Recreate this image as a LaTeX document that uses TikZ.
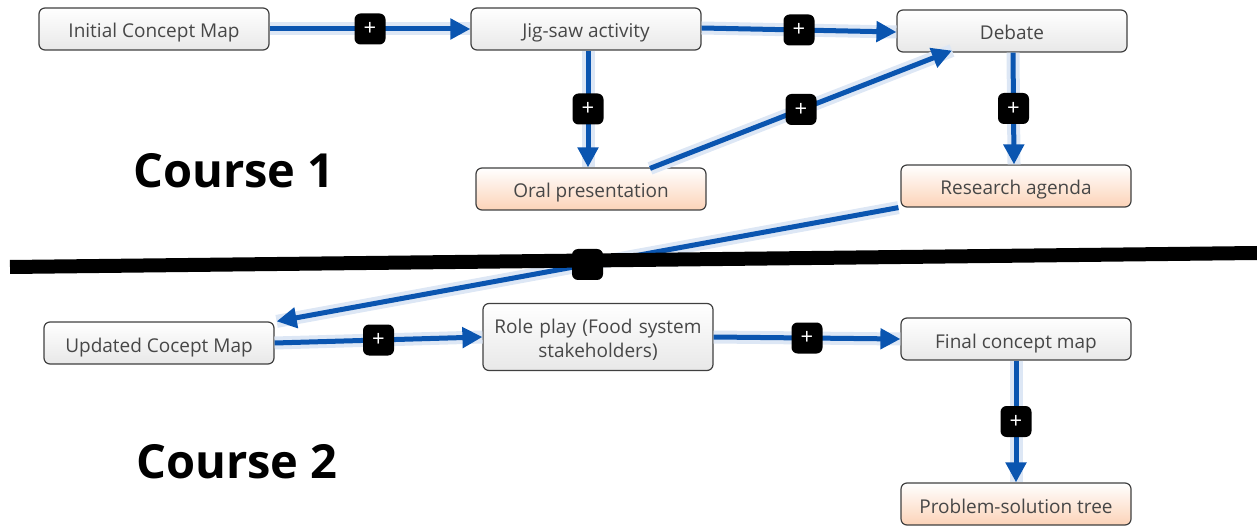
\documentclass[tikz,border=0pt]{standalone}
\usepackage{fontspec}
\setmainfont{Open Sans}
\usetikzlibrary{arrows.meta,calc}
\definecolor{edgeblue}{HTML}{0A55B0}
\definecolor{haloblue}{HTML}{DDE7F5}
\definecolor{txtgray}{HTML}{474747}
\definecolor{boxline}{HTML}{404040}
\definecolor{orangebot}{HTML}{FCD3B8}
\begin{document}
\begin{tikzpicture}[x=1pt,y=-1pt,
  boxbase/.style={draw=boxline, line width=1.2pt, rounded corners=6pt, minimum width=230pt, minimum height=42pt,
    inner sep=0pt, top color=white, bottom color=gray!18, text=txtgray, font=\fontsize{19}{24}\selectfont, align=center},
  box/.style={boxbase, text height=18pt, text depth=0pt},
  obox/.style={box, top color=white, bottom color=orangebot},
  flow/.style={draw=edgeblue, line width=5pt, -{Triangle[length=20pt,width=20pt]},
    preaction={draw=haloblue, line width=13pt, -}},
  badge/.style={fill=black, rounded corners=6pt, minimum size=31pt, inner sep=0pt, text=white,
    font=\fontsize{22}{22}\selectfont},
  course/.style={font=\fontsize{47}{52}\selectfont\bfseries, text=black}
]
\useasboundingbox (0,0) rectangle (1257,526);

\node[box]  (init)   at (154,29)  {Initial Concept Map};
\node[box]  (jig)    at (586,29)  {Jig-saw activity};
\node[box]  (debate) at (1012,31) {Debate};
\node[obox] (oral)   at (591,189) {Oral presentation};
\node[obox] (res)    at (1016,186) {Research agenda};
\node[box]  (upd)    at (159,343) {Updated Cocept Map};
\node[boxbase, minimum height=67pt, text width=225pt, text depth=20.5pt] (role) at (598,337) {Role play (Food system\\ stakeholders)};
\node[box]  (final)  at (1016,339) {Final concept map};
\node[obox] (prob)   at (1016,504) {Problem-solution tree};

\node[course] (c1) at (234,170.5) {Course 1};
\node[course] (c2) at (237,462) {Course 2};

\draw[flow] (init.east) -- node[badge]{+} (jig.west);
\draw[flow] ([yshift=1pt]jig.east) -- node[badge]{+} ([yshift=-1pt]debate.west);
\draw[flow] ([xshift=2pt]jig.south) -- node[badge]{+} ([xshift=-3pt]oral.north);
\draw[flow] ([xshift=59pt,yshift=-1pt]oral.north) -- node[badge]{+} ([xshift=-60pt,yshift=2pt]debate.south);
\draw[flow] ([xshift=1pt]debate.south) -- node[badge]{+} ([xshift=-2pt]res.north);
\draw[flow] ([xshift=-2pt]res.south west) -- coordinate (cross) ([xshift=2pt]upd.north east);
\draw[flow] (upd.east) -- node[badge]{+} (role.west);
\draw[flow] (role.east) -- node[badge]{+} (final.west);
\draw[flow] (final.south) -- node[badge]{+} (prob.north);

\coordinate (lineL) at (10,267);
\coordinate (lineR) at (1257,253);
\draw[line width=14pt, black] (lineL) -- (lineR);
\node[badge] (xb) at (cross) {};
\end{tikzpicture}
\end{document}
